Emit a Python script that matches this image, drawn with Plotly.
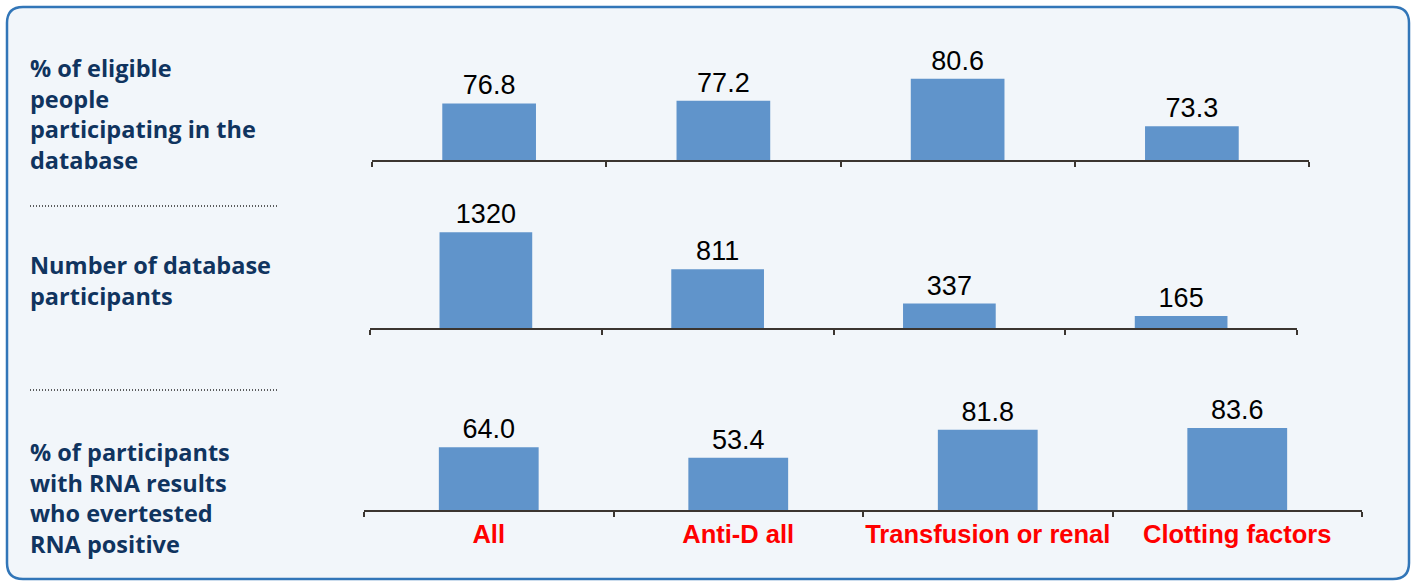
import plotly.graph_objects as go

# ---- data ----
categories = ["All", "Anti-D all", "Transfusion or renal", "Clotting factors"]
pct_participating = [76.8, 77.2, 80.6, 73.3]
n_participants = [1320, 811, 337, 165]
pct_rna_positive = [64.0, 53.4, 81.8, 83.6]

row_labels = [
    "% of eligible<br>people<br>participating in the<br>database",
    "Number of database<br>participants",
    "% of participants<br>with RNA results<br>who evertested<br>RNA positive",
]

W, H = 1416, 584
BAR = "#6094cb"
NAVY = "#10345f"
AXIS = "#3b3530"


def px(x):
    return x / W


def py(y):
    return 1 - y / H


fig = go.Figure()

panels = [
    # values, text format, x pixel span, (bottom, top) pixel rows, y range
    (pct_participating, "%{y:.1f}", (372, 1309), (160, 40), [68.1, 86.56]),
    (n_participants, "%{y:.0f}", (370, 1297), (328, 200), [0, 1765]),
    (pct_rna_positive, "%{y:.1f}", (364, 1362), (510, 390), [0, 122.4]),
]

for i, (vals, fmt, (xl, xr), (yb, yt), yr) in enumerate(panels, start=1):
    sfx = "" if i == 1 else str(i)
    fig.add_trace(go.Bar(
        x=categories, y=vals, width=0.4,
        marker=dict(color=BAR, line=dict(width=0)),
        texttemplate=fmt, textposition="outside",
        textfont=dict(family="Liberation Sans, Arial", size=27, color="#000000"),
        cliponaxis=False, showlegend=False,
        xaxis="x" + sfx, yaxis="y" + sfx,
    ))
    fig.layout["xaxis" + sfx] = dict(
        domain=[px(xl), px(xr)], anchor="y" + sfx,
        showline=True, linecolor=AXIS, linewidth=2,
        ticks="outside", tickson="boundaries", ticklen=5, tickwidth=1.5, tickcolor=AXIS,
        showgrid=False, zeroline=False, fixedrange=True,
        showticklabels=(i == 3), tickangle=0, automargin=False,
        tickfont=dict(family="Liberation Sans, Arial", size=25.5, color="#ff0000", weight="bold"),
    )
    fig.layout["yaxis" + sfx] = dict(
        domain=[py(yb), py(yt)], anchor="x" + sfx, range=yr,
        visible=False, fixedrange=True, automargin=False,
    )

# rounded frame around the whole graphic
def rounded_rect(x0, y0, x1, y1, r):
    rx, ry = r / W, r / H
    a, b, c, d = px(x0), py(y0), px(x1), py(y1)
    return (f"M {a+rx},{b} L {c-rx},{b} Q {c},{b} {c},{b-ry} "
            f"L {c},{d+ry} Q {c},{d} {c-rx},{d} "
            f"L {a+rx},{d} Q {a},{d} {a},{d+ry} "
            f"L {a},{b-ry} Q {a},{b} {a+rx},{b} Z")

shapes = [dict(type="path", xref="paper", yref="paper", layer="below",
               path=rounded_rect(7, 7, 1409, 579, 16),
               fillcolor="#f2f6fa", line=dict(color="#3276b8", width=2.5))]

for yline in (206, 390):
    shapes.append(dict(type="line", xref="paper", yref="paper",
                       x0=px(30), x1=px(277), y0=py(yline), y1=py(yline),
                       line=dict(color="#2a2a2a", width=1.3, dash="1px,2px")))

annotations = []
for text, ycen in zip(row_labels, (114.5, 280.5, 498)):
    annotations.append(dict(
        xref="paper", yref="paper", x=px(28), y=py(ycen),
        xanchor="left", yanchor="middle", align="left", showarrow=False,
        text=text,
        font=dict(family="Open Sans, Noto Sans", size=23.5, color=NAVY, weight=700),
    ))

fig.update_layout(
    width=W, height=H,
    margin=dict(l=0, r=0, t=0, b=0, autoexpand=False),
    paper_bgcolor="#ffffff", plot_bgcolor="rgba(0,0,0,0)",
    shapes=shapes, annotations=annotations,
    bargap=0.6,
)

fig.write_html("out.html", config={"displayModeBar": False})
